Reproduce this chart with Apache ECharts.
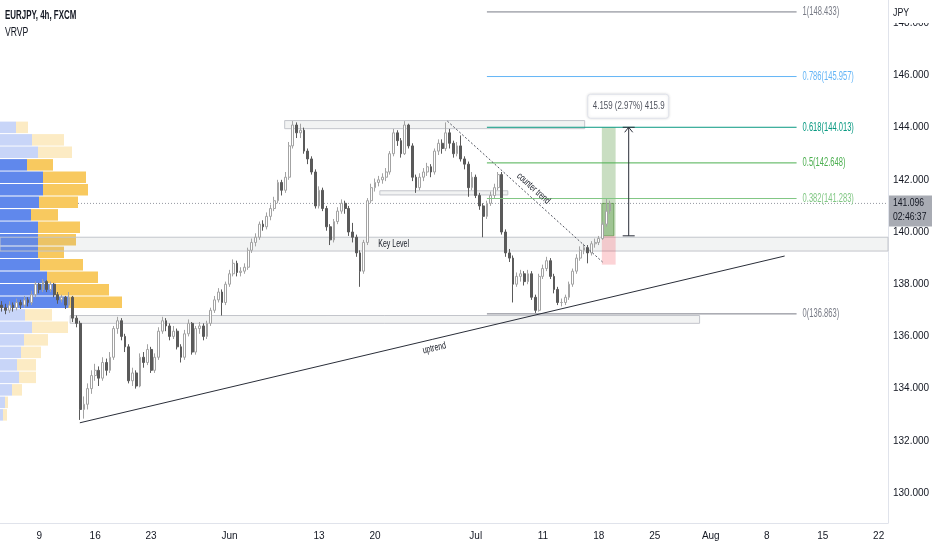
<!DOCTYPE html>
<html><head><meta charset="utf-8">
<script src="https://cdn.jsdelivr.net/npm/echarts@6/dist/echarts.min.js"></script>
<style>html,body{margin:0;padding:0;background:#fff}#c{width:932px;height:550px}</style>
</head><body><div id="c"></div>
<script>
// ---------------- data ----------------
const symbolTitle = 'EURJPY, 4h, FXCM';
const indicatorName = 'VRVP';
const currencyLabel = 'JPY';
// session index (8h bars, 15 per week) of each date label
const xTickBars = [10, 25, 40, 61, 85, 100, 127, 145, 160, 175, 190, 205, 220, 235];
const xTickLabels = ['9', '16', '23', 'Jun', '13', '20', 'Jul', '11', '18', '25', 'Aug', '8', '15', '22'];
const xLastBar = 237;
const yTickValues = [130, 132, 134, 136, 138, 140, 142, 144, 146, 148];
const yMin = 128.85, yMax = 148.89;
// candles: [open, close, low, high]
const candles = [
[137.20,137.10,136.95,137.35],[137.10,137.00,136.85,137.25],[137.00,137.20,136.90,137.35],[137.20,137.10,136.95,137.30],
[137.10,137.30,137.00,137.45],[137.30,137.20,137.05,137.40],[137.20,137.40,137.10,137.55],[137.40,137.30,137.15,137.50],
[137.30,137.60,137.20,137.75],[137.60,138.00,137.50,138.10],[138.00,137.80,137.65,138.05],[137.80,138.10,137.70,138.20],
[138.10,137.80,137.70,138.15],[137.80,138.00,137.70,138.10],[138.00,137.60,137.50,138.05],[137.60,137.40,137.25,137.70],
[137.40,137.50,137.30,137.60],[137.50,137.20,137.05,137.55],[137.20,137.50,137.10,137.70],[137.50,136.70,136.55,137.55],
[136.70,136.50,136.35,136.80],[136.50,133.20,132.80,136.60],[133.20,133.40,132.85,133.70],[133.40,134.00,133.20,134.20],
[134.00,134.50,133.80,134.70],[134.50,134.70,134.30,134.95],[134.70,134.40,134.10,134.85],[134.40,135.00,134.30,135.20],
[135.00,134.70,134.50,135.15],[134.70,135.20,134.60,135.40],[135.20,136.30,135.10,136.40],[136.30,136.60,136.10,136.75],
[136.60,136.00,135.85,136.70],[136.00,135.60,135.40,136.10],[135.60,134.30,134.20,135.70],[134.30,134.60,134.10,134.80],
[134.60,134.10,134.00,134.70],[134.10,135.20,134.05,135.35],[135.20,135.00,134.80,135.40],[135.00,135.50,134.90,135.70],
[135.50,134.70,134.60,135.60],[134.70,135.20,134.60,135.35],[135.20,136.20,135.10,136.35],[136.20,136.60,136.10,136.75],
[136.60,136.40,136.20,136.70],[136.40,136.00,135.85,136.50],[136.00,136.20,135.90,136.40],[136.20,135.60,135.50,136.30],
[135.60,135.20,135.00,135.70],[135.20,136.10,135.10,136.25],[136.10,136.50,136.00,136.65],[136.50,135.40,135.30,136.55],
[135.40,136.30,135.30,136.40],[136.30,136.40,136.10,136.55],[136.40,136.00,135.85,136.50],[136.00,136.50,135.90,136.60],
[136.50,137.00,136.40,137.10],[137.00,137.40,136.90,137.55],[137.40,137.70,137.30,137.85],[137.70,137.30,136.80,137.80],
[137.30,138.00,137.20,138.10],[138.00,138.40,137.90,138.55],[138.40,138.80,138.30,138.95],[138.80,138.45,138.30,138.90],
[138.45,138.50,138.30,138.65],[138.50,138.65,138.40,138.80],[138.65,139.30,138.55,139.40],[139.30,139.60,139.20,139.75],
[139.60,139.80,139.45,139.95],[139.80,140.30,139.70,140.40],[140.30,140.20,140.05,140.45],[140.20,140.60,140.10,140.75],
[140.60,140.90,140.45,141.05],[140.90,141.20,140.80,141.35],[141.20,141.90,141.10,142.00],[141.90,141.60,141.40,142.00],
[141.60,142.10,141.50,142.30],[142.10,143.30,142.00,143.45],[143.30,144.10,143.20,144.25],[144.10,143.80,143.60,144.20],
[143.80,143.90,143.60,144.15],[143.90,143.10,143.00,144.00],[143.10,142.80,142.60,143.20],[142.80,142.30,142.20,142.90],
[142.30,141.00,140.90,142.40],[141.00,141.60,140.90,141.75],[141.60,140.90,140.80,141.70],[140.90,140.20,140.05,141.00],
[140.20,139.70,139.50,140.30],[139.70,140.40,139.60,140.50],[140.40,140.80,140.30,140.95],[140.80,141.10,140.70,141.25],
[141.10,140.90,140.70,141.20],[140.90,140.00,139.85,141.00],[140.00,139.80,139.60,140.35],[139.80,139.20,139.05,139.90],
[139.20,138.50,137.90,139.30],[138.50,139.60,138.40,139.70],[139.60,141.20,139.50,141.30],[141.20,141.70,141.10,141.85],
[141.70,141.90,141.55,142.05],[141.90,142.00,141.75,142.15],[142.00,142.10,141.85,142.25],[142.10,142.30,141.95,142.45],
[142.30,143.00,142.20,143.10],[143.00,143.80,142.90,143.95],[143.80,143.50,143.30,143.90],[143.50,143.00,142.85,143.60],
[143.00,144.10,142.95,144.25],[144.10,143.30,143.20,144.15],[143.30,142.10,141.95,143.40],[142.10,141.70,141.50,142.20],
[141.70,142.10,141.60,142.25],[142.10,142.30,141.95,142.45],[142.30,142.50,142.15,142.65],[142.50,142.30,142.10,142.60],
[142.30,143.10,142.20,143.20],[143.10,143.40,142.95,143.55],[143.40,143.20,143.00,143.55],[143.20,143.80,143.10,144.20],
[143.80,143.40,143.20,143.95],[143.40,143.00,142.85,143.50],[143.00,143.30,142.90,143.45],[143.30,142.80,142.70,143.70],
[142.80,142.60,142.40,142.90],[142.60,141.70,141.35,142.70],[141.70,142.10,141.60,142.30],[142.10,141.40,141.30,142.20],
[141.40,141.00,140.85,141.50],[141.00,140.60,139.80,141.10],[140.60,141.10,140.50,141.20],[141.10,141.40,141.00,141.55],
[141.40,141.70,141.30,141.85],[141.70,142.20,141.60,142.30],[142.20,140.00,139.90,142.30],[140.00,139.20,139.05,140.10],
[139.20,139.00,138.85,139.35],[139.00,138.00,137.30,139.10],[138.00,138.30,137.90,138.45],[138.30,138.40,138.10,138.55],
[138.40,138.10,137.95,138.50],[138.10,138.40,138.00,138.55],[138.40,137.50,137.40,138.50],[137.50,137.00,136.90,137.60],
[137.00,138.30,136.95,138.40],[138.30,138.60,138.20,138.75],[138.60,138.90,138.50,139.05],[138.90,138.30,138.20,139.00],
[138.30,137.80,137.65,138.40],[137.80,137.30,137.20,137.90],[137.30,137.30,137.15,137.45],[137.30,137.50,137.20,137.60],
[137.50,138.00,137.40,138.10],[138.00,138.50,137.90,138.60],[138.50,139.00,138.40,139.15],[139.00,139.30,138.90,139.45],
[139.30,139.40,139.15,139.55],[139.40,139.20,138.80,139.50],[139.20,139.55,139.10,139.65],[139.55,139.60,139.40,139.75],
[139.60,139.75,139.50,139.85],[139.75,140.30,139.70,140.40],[140.30,140.80,140.20,141.30],[140.80,141.10,140.70,141.20]
];
const lastPrice = 141.096;
const countdown = '02:46:37';
// fibonacci retracement
const fibRatios = ['1', '0.786', '0.618', '0.5', '0.382', '0'];
const fibPrices = [148.433, 145.957, 144.013, 142.648, 141.283, 136.863];
const fibFromBar = 130, fibToBar = 213;
// visible-range volume profile, rows from top to bottom (relative volume)
const vpUpVol   = [160,320,380,270,430,430,390,310,380,380,380,400,470,550,680,250,320,240,210,170,190,120,50,30];
const vpDownVol = [120,320,340,260,430,450,390,270,420,380,260,430,510,540,540,270,360,240,200,190,170,100,30,40];
const vpTopPrice = 144.25, vpRowStep = 0.479;
const vaFirstRow = 3, vaLastRow = 14;
// rectangles: [fromBar, toBar, upperPrice, lowerPrice]
const zoneBoxes = [
  [75.8, 156.2, 144.27, 143.96],
  [-0.5, 237.5, 139.80, 139.27],
  [101.3, 135.6, 141.58, 141.42],
  [18.3, 187.0, 136.80, 136.50]
];
const keyLevelText = 'Key Level';
const keyLevelBar = 105;
// trend lines: [[bar, price], [bar, price]]
const uptrend = [[20.9, 132.69], [209.8, 139.08]];
const counterTrend = [[119.4, 144.25], [161.0, 138.85]];
const uptrendText = 'uptrend', counterTrendText = 'counter trend';
// long position tool
const posFromBar = 160.8, posToBar = 164.5;
const posEntry = 139.854, posTarget = 144.013, posStop = 138.75;
// price range measurement
const measureBar = 168;
const measureFrom = 139.854, measureTo = 144.013;
const measureText = '4.159 (2.97%) 415.9';

// ---------------- style ----------------
const FONT = '"Liberation Sans","DejaVu Sans",sans-serif';
const TXT = '#131722';
const NARROW = 0.7;
const fibColors = ['#787b86', '#64b5f6', '#089981', '#4caf50', '#81c784', '#787b86'];

function seg(api, a, b, style) {
  const p = api.coord(a), q = api.coord(b);
  return { type: 'line', shape: { x1: p[0], y1: p[1], x2: q[0], y2: q[1] }, style: style };
}
function box(api, x0, x1, p0, p1, style) {
  const a = api.coord([x0, p0]), b = api.coord([x1, p1]);
  return { type: 'rect', shape: { x: Math.min(a[0], b[0]), y: Math.min(a[1], b[1]), width: Math.abs(b[0] - a[0]), height: Math.abs(b[1] - a[1]) }, style: style };
}
function txt(x, y, text, font, fill, align, sx) {
  return { type: 'text', x: x, y: y, scaleX: sx || NARROW,
    style: { text: text, fill: fill || TXT, font: font, align: align || 'left', verticalAlign: 'middle' } };
}
function lineLabel(api, line, t, offset, text) {
  const p = api.coord(line[0]), q = api.coord(line[1]);
  const dx = q[0] - p[0], dy = q[1] - p[1], len = Math.sqrt(dx * dx + dy * dy);
  const ux = dx / len, uy = dy / len;
  const nx = uy, ny = -ux;
  const cx = p[0] + dx * t + nx * offset, cy = p[1] + dy * t + ny * offset;
  const el = txt(cx, cy, text, '10px ' + FONT, TXT, 'center');
  el.rotation = -Math.atan2(dy, dx);
  return el;
}

const chart = echarts.init(document.getElementById('c'), null, { renderer: 'canvas' });

const option = {
  backgroundColor: '#ffffff',
  animation: false,
  grid: { left: 0, right: 44, top: 0, bottom: 27, containLabel: false, outerBoundsMode: 'none' },
  xAxis: [{
    type: 'value', min: -0.5, max: xLastBar + 0.5,
    axisLine: { show: true, onZero: false, lineStyle: { color: '#e0e3eb' } },
    axisTick: { show: false }, splitLine: { show: false },
    axisLabel: { customValues: xTickBars, color: TXT, fontFamily: FONT, fontSize: 10, margin: 8,
      formatter: function (v) { const k = xTickBars.indexOf(Math.round(v)); return k >= 0 ? xTickLabels[k] : ''; } }
  }, {
    type: 'value', min: 0, max: 8880, position: 'top', show: false
  }],
  yAxis: [{
    type: 'value', position: 'right', min: yMin, max: yMax, scale: true,
    axisLine: { show: true, onZero: false, lineStyle: { color: '#e0e3eb' } },
    axisTick: { show: false }, splitLine: { show: false },
    axisLabel: { customValues: yTickValues, color: TXT, fontFamily: FONT, fontSize: 10, margin: 5,
      formatter: function (v) { return v.toFixed(3); } }
  }],
  graphic: [
    txt(5, 16, symbolTitle, 'bold 12px ' + FONT, TXT, 'left', 0.66),
    txt(5, 33, indicatorName, '12px ' + FONT, TXT, 'left', 0.72),
    { type: 'rect', x: 889, y: 0, shape: { width: 43, height: 23 }, style: { fill: '#ffffff' }, z: 100 },
    Object.assign(txt(893, 13, currencyLabel, '11px ' + FONT, TXT, 'left', 0.8), { z: 101 })
  ],
  series: [
    { // current price dotted line
      type: 'custom', z: 1, silent: true, data: [[0, lastPrice]],
      renderItem: function (params, api) {
        return seg(api, [-0.5, lastPrice], [xLastBar + 0.5, lastPrice], { stroke: '#9598a1', lineWidth: 1, lineDash: [1, 2] });
      }
    },
    { // volume profile
      type: 'custom', z: 2, silent: true, xAxisIndex: 1, yAxisIndex: 0,
      data: vpUpVol.map(function (u, k) { return [u, vpTopPrice - k * vpRowStep]; }),
      renderItem: function (params, api) {
        const k = params.dataIndex;
        const top = vpTopPrice - k * vpRowStep, bot = top - vpRowStep;
        const inVA = k >= vaFirstRow && k <= vaLastRow;
        const a = api.coord([0, top]), b = api.coord([vpUpVol[k], bot]), c = api.coord([vpUpVol[k] + vpDownVol[k], bot]);
        const h = b[1] - a[1] - 1;
        return { type: 'group', children: [
          { type: 'rect', shape: { x: a[0], y: a[1] + 0.5, width: b[0] - a[0], height: h }, style: { fill: inVA ? '#6088ec' : '#c8d5f8' } },
          { type: 'rect', shape: { x: b[0], y: a[1] + 0.5, width: c[0] - b[0], height: h }, style: { fill: inVA ? '#f8c95f' : '#fcebc4' } }
        ] };
      }
    },
    { // zones
      type: 'custom', z: 3, silent: true, data: zoneBoxes,
      renderItem: function (params, api) {
        const z = zoneBoxes[params.dataIndex];
        const children = [box(api, z[0], z[1], z[2], z[3], { fill: 'rgba(150,153,160,0.12)', stroke: '#c3c5cb', lineWidth: 1 })];
        if (params.dataIndex === 1) {
          const p = api.coord([keyLevelBar, (z[2] + z[3]) / 2]);
          children.push(txt(p[0], p[1], keyLevelText, '10px ' + FONT, TXT, 'center'));
        }
        return { type: 'group', children: children };
      }
    },
    { // long position
      type: 'custom', z: 3, silent: true, data: [[posFromBar, posEntry]],
      renderItem: function (params, api) {
        return { type: 'group', children: [
          box(api, posFromBar, posToBar, posTarget, posEntry, { fill: 'rgba(100,160,80,0.35)' }),
          box(api, posFromBar, posToBar - 0.5, lastPrice, posEntry, { fill: 'rgba(80,150,60,0.35)', stroke: 'rgba(80,140,60,0.6)', lineWidth: 1 }),
          box(api, posFromBar, posToBar, posEntry, posStop, { fill: 'rgba(242,54,69,0.22)' })
        ] };
      }
    },
    {
      type: 'candlestick', z: 4, xAxisIndex: 0, yAxisIndex: 0, barWidth: 2.3,
      dimensions: ['bar', 'open', 'close', 'lowest', 'highest'],
      encode: { x: 0, y: [1, 2, 3, 4] },
      data: candles.map(function (c, i) { return [i, c[0], c[1], c[2], c[3]]; }),
      itemStyle: { color: '#ffffff', color0: '#5a5a5a', borderColor: '#a3a3a3', borderColor0: '#5a5a5a', borderWidth: 1 }
    },
    { // fibonacci
      type: 'custom', z: 5, silent: true, data: fibPrices.map(function (p) { return [fibToBar, p]; }),
      renderItem: function (params, api) {
        const k = params.dataIndex;
        const q = api.coord([fibToBar, fibPrices[k]]);
        return { type: 'group', children: [
          seg(api, [fibFromBar, fibPrices[k]], [fibToBar, fibPrices[k]], { stroke: fibColors[k], lineWidth: 1 }),
          txt(q[0] + 6, q[1], fibRatios[k] + '(' + fibPrices[k].toFixed(3) + ')', '12px ' + FONT, fibColors[k], 'left', 0.63)
        ] };
      }
    },
    { // trend lines
      type: 'custom', z: 5, silent: true, data: [[0, 0]],
      renderItem: function (params, api) {
        return { type: 'group', children: [
          seg(api, uptrend[0], uptrend[1], { stroke: '#2a2e39', lineWidth: 1 }),
          lineLabel(api, uptrend, 0.5, -9, uptrendText),
          seg(api, counterTrend[0], counterTrend[1], { stroke: '#50535e', lineWidth: 1, lineDash: [2, 2] }),
          lineLabel(api, counterTrend, 0.52, 8, counterTrendText)
        ] };
      }
    },
    { // measurement
      type: 'custom', z: 6, silent: true, data: [[measureBar, measureTo]],
      renderItem: function (params, api) {
        const t = api.coord([measureBar, measureTo]), b = api.coord([measureBar, measureFrom]);
        const st = { stroke: '#2a2e39', lineWidth: 1 };
        return { type: 'group', children: [
          { type: 'line', shape: { x1: t[0], y1: t[1], x2: b[0], y2: b[1] }, style: st },
          { type: 'line', shape: { x1: b[0] - 6, y1: b[1], x2: b[0] + 6, y2: b[1] }, style: st },
          { type: 'line', shape: { x1: t[0] - 6, y1: t[1], x2: t[0] + 6, y2: t[1] }, style: st },
          { type: 'polyline', shape: { points: [[t[0] - 4, t[1] + 5], [t[0], t[1]], [t[0] + 4, t[1] + 5]] }, style: { stroke: '#2a2e39', lineWidth: 1, fill: null } },
          { type: 'rect', shape: { x: t[0] - 41, y: t[1] - 33, width: 81, height: 24, r: 3 }, style: { fill: '#ffffff', stroke: '#e0e3eb', lineWidth: 1, shadowBlur: 3, shadowColor: 'rgba(0,0,0,0.12)' } },
          txt(t[0], t[1] - 21, measureText, '11px ' + FONT, '#50535e', 'center', 0.72)
        ] };
      }
    },
    { // last price tag on the axis
      type: 'custom', z: 20, silent: true, clip: false, data: [[xLastBar, lastPrice]],
      renderItem: function (params, api) {
        const p = api.coord([xLastBar + 0.5, lastPrice]);
        return { type: 'group', children: [
          { type: 'rect', shape: { x: p[0] + 1, y: p[1] - 8, width: 44, height: 31 }, style: { fill: '#a8abb3' } },
          txt(p[0] + 5, p[1], lastPrice.toFixed(3), '11px ' + FONT, TXT, 'left', 0.78),
          txt(p[0] + 5, p[1] + 14, countdown, '11px ' + FONT, TXT, 'left', 0.78)
        ] };
      }
    }
  ]
};
chart.setOption(option);
</script>
</body></html>
